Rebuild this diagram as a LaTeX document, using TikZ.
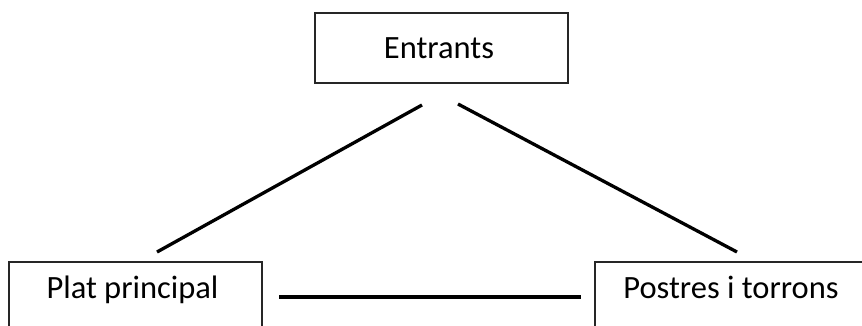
\documentclass[tikz,border=0pt]{standalone}
\usepackage{fontspec}
\setmainfont{Carlito}
\begin{document}
\begin{tikzpicture}[x=1pt,y=-1pt,
  box/.style={draw=black!85,line width=1.3pt,rectangle,inner sep=0pt},
  lbl/.style={anchor=base,inner sep=0pt,font=\fontsize{32.5}{38}\selectfont},
  conn/.style={line width=3.3pt,black}]
\useasboundingbox (0,0) rectangle (862,325);
\clip (0,0) rectangle (862,325);
\node[box,minimum width=253pt,minimum height=70pt] (entr) at (441.5,48) {};
\node[box,minimum width=253pt,minimum height=70pt] (plat) at (135.5,297) {};
\node[box,minimum width=272pt,minimum height=70pt] (post) at (731,297) {};
\node[lbl] (tentr) at (439,58) {Entrants};
\node[lbl] (tplat) at (132.5,298) {Plat principal};
\node[lbl] (tpost) at (731,298) {Postres i torrons};
\coordinate (la) at (422,105);
\coordinate (lb) at (157,252);
\coordinate (ra) at (458,104);
\coordinate (rb) at (737,252);
\coordinate (ha) at (279,297);
\coordinate (hb) at (581,297);
\draw[conn] (la) -- (lb);
\draw[conn] (ra) -- (rb);
\draw[conn] (ha) -- (hb);
\end{tikzpicture}
\end{document}
